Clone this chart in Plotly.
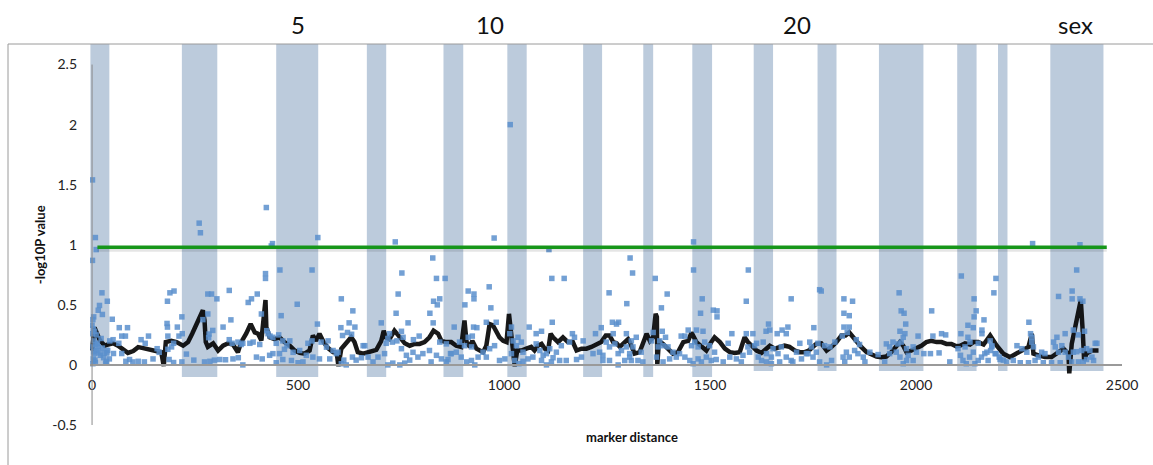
import plotly.graph_objects as go

# Chromosome blocks shaded in the background (marker distance units)
band_start = [-4, 218, 447, 667, 853, 1008, 1192, 1338, 1457, 1606, 1761, 1910, 2100, 2199, 2326]
band_end = [42, 304, 549, 714, 901, 1055, 1238, 1362, 1505, 1653, 1807, 2018, 2147, 2222, 2455]
band_floor = [0.0, -0.1, -0.1, -0.1, -0.1, -0.1, -0.1, -0.1, -0.1, -0.05, -0.05, -0.05, -0.05, -0.05, -0.05]
band_top = 2.671

# Chromosome labels above the plot
chrom_labels = ["5", "10", "20", "sex"]
chrom_label_pos = [500, 966, 1711, 2388]

# Significance threshold
threshold = 0.98
threshold_from, threshold_to = 13, 2463

# Single-marker -log10 P values (marker distance, -log10P)
markers = [
    (1, 1.54), (8, 1.06), (10, 0.96), (1, 0.87), (260, 1.18), (263, 1.10), (423, 1.31), (435, 0.99),
    (421, 0.76), (421, 0.72), (333, 0.62), (199, 0.615), (189, 0.60), (24, 0.60), (37, 0.53), (18, 0.495),
    (15, 0.455), (25, 0.42), (4, 0.40), (2, 0.377), (49, 0.38), (183, 0.53), (281, 0.59), (290, 0.59),
    (303, 0.55), (218, 0.40), (182, 0.345), (183, 0.315), (207, 0.315), (66, 0.31), (86, 0.31), (72, 0.24),
    (81, 0.24), (119, 0.21), (137, 0.24), (129, 0.18), (281, 0.424), (269, 0.377), (293, 0.287), (284, 0.257),
    (283, 0.227), (318, 0.315), (337, 0.375), (333, 0.21), (340, 0.18), (379, 0.52), (387, 0.55), (401, 0.59),
    (411, 0.424), (424, 0.285), (432, 0.24), (366, 0.18), (383, 0.18), (219, 0.26), (211, 0.24), (184, 0.24),
    (198, 0.18), (51, 0.21), (43, 0.20), (65, 0.18), (52, 0.095), (72, 0.095), (36, 0.10), (33, 0.015),
    (91, 0.045), (82, 0.03), (99, 0.025), (112, 0.03), (127, 0.025), (148, 0.05), (158, 0.135), (163, 0.105),
    (187, 0.045), (198, 0.02), (218, 0.025), (229, 0.09), (247, 0.04), (273, 0.025), (286, 0.03), (297, 0.04),
    (310, 0.045), (324, 0.043), (342, 0.05), (355, 0.06), (366, 0.0), (399, 0.065), (413, 0.05), (431, 0.08),
    (2, 0.15), (5, 0.094), (7, 0.04), (1, 0.26), (5, 0.2), (12, 0.12), (20, 0.08), (28, 0.06), (35, 0.03),
    (3, 0.05), (8, 0.02), (15, 0.15), (22, 0.22), (30, 0.1), (38, 0.12), (42, 0.05), (354, 0.19), (362, 0.17),
    (391, 0.19), (407, 0.17), (184, 0.13), (193, 0.15), (0, 0.33), (3, 0.3), (6, 0.28), (10, 0.25), (13, 0.18),
    (17, 0.1), (25, 0.14), (4, 0.11), (9, 0.17), (2, 0.01),
    (438, 1.01), (548, 1.06), (736, 1.024), (456, 0.79), (534, 0.79), (827, 0.89), (752, 0.765), (836, 0.72),
    (857, 0.72), (743, 0.59), (498, 0.505), (605, 0.55), (829, 0.53), (838, 0.50), (844, 0.55), (459, 0.41),
    (633, 0.45), (738, 0.43), (820, 0.43), (702, 0.35), (767, 0.35), (828, 0.35), (547, 0.34), (624, 0.35),
    (604, 0.31), (638, 0.315), (620, 0.27), (630, 0.255), (608, 0.245), (751, 0.28), (780, 0.21), (794, 0.24),
    (427, 0.26), (439, 0.23), (453, 0.25), (463, 0.20), (447, 0.18), (473, 0.16), (480, 0.20), (439, 0.094),
    (455, 0.094), (467, 0.13), (488, 0.105), (504, 0.12), (524, 0.18), (534, 0.20), (556, 0.19), (573, 0.20),
    (552, 0.05), (536, 0.065), (520, 0.08), (447, 0.018), (463, 0.045), (484, 0.037), (500, 0.018), (512, 0.025),
    (569, 0.148), (585, 0.12), (597, 0.106), (577, 0.05), (593, 0.094), (605, 0.01), (617, 0.0), (611, 0.04),
    (632, 0.065), (641, 0.04), (654, 0.06), (658, 0.16), (662, 0.16), (670, 0.065), (682, 0.025), (694, 0.065),
    (710, 0.094), (714, 0.18), (718, 0.22), (722, 0.26), (729, 0.19), (740, 0.20), (751, 0.135), (755, 0.23),
    (718, 0.0), (730, 0.015), (747, 0.0), (759, 0.015), (771, 0.04), (763, 0.08), (779, 0.105), (791, 0.065),
    (803, 0.094), (819, 0.12), (823, 0.025), (836, 0.08), (848, 0.05), (860, 0.025), (872, 0.094), (844, 0.19),
    (860, 0.175),
    (976, 1.056), (1109, 0.96), (1116, 0.72), (1146, 0.72), (1306, 0.89), (964, 0.65), (913, 0.615), (927, 0.59),
    (927, 0.55), (905, 0.50), (968, 0.475), (1255, 0.60), (1298, 0.51), (879, 0.315), (926, 0.315), (934, 0.31),
    (957, 0.355), (981, 0.355), (1117, 0.355), (1061, 0.315), (1236, 0.31), (1263, 0.355), (1273, 0.34),
    (1278, 0.355), (1222, 0.26), (1166, 0.26), (1078, 0.26), (1091, 0.28), (1265, 0.26), (1297, 0.26),
    (864, 0.045), (870, 0.094), (892, 0.19), (904, 0.16), (913, 0.23), (923, 0.24), (921, 0.15), (884, 0.106),
    (896, 0.065), (909, 0.025), (921, 0.037), (929, 0.0), (937, 0.065), (949, 0.106), (957, 0.065), (965, 0.135),
    (977, 0.16), (989, 0.037), (1002, 0.05), (1018, 0.315), (1014, 0.26), (1022, 0.20), (1030, 0.16),
    (1034, 0.23), (1042, 0.19), (1046, 0.106), (1018, 0.094), (1026, 0.037), (1036, 0.01), (1046, 0.03),
    (1058, 0.05), (1070, 0.065), (1078, 0.175), (1087, 0.12), (1095, 0.08), (1103, 0.094), (1111, 0.135),
    (1119, 0.06), (1127, 0.106), (1139, 0.16), (1091, 0.037), (1103, 0.0), (1115, 0.025), (1135, 0.037),
    (1151, 0.037), (1176, 0.045), (1188, 0.065), (1159, 0.19), (1171, 0.23), (1192, 0.20), (1216, 0.094),
    (1232, 0.106), (1240, 0.037), (1248, 0.19), (1256, 0.15), (1269, 0.175), (1277, 0.094), (1285, 0.12),
    (1297, 0.15), (1305, 0.094), (1309, 0.037), (1256, 0.037), (1277, 0.0), (1293, 0.037), (1240, 0.08),
    (1015, 2.0),
    (1460, 1.024), (1312, 0.765), (1367, 0.72), (1460, 0.79), (1593, 0.79), (1396, 0.59), (1481, 0.55),
    (1588, 0.53), (1697, 0.55), (1382, 0.475), (1477, 0.43), (1508, 0.456), (1517, 0.45), (1517, 0.40),
    (1642, 0.34), (1689, 0.315), (1675, 0.29), (1553, 0.26), (1636, 0.28), (1645, 0.29), (1663, 0.26),
    (1685, 0.26), (1384, 0.28), (1447, 0.29), (1467, 0.29), (1483, 0.28), (1430, 0.24), (1439, 0.24),
    (1392, 0.23), (1604, 0.26), (1588, 0.26), (1544, 0.18), (1613, 0.18), (1629, 0.19), (1718, 0.18),
    (1742, 0.19), (1309, 0.20), (1321, 0.23), (1313, 0.15), (1333, 0.106), (1305, 0.065), (1325, 0.037),
    (1337, 0.025), (1378, 0.20), (1386, 0.16), (1398, 0.15), (1410, 0.106), (1418, 0.065), (1402, 0.05),
    (1386, 0.025), (1426, 0.094), (1439, 0.065), (1451, 0.037), (1459, 0.01), (1471, 0.05), (1479, 0.025),
    (1491, 0.065), (1503, 0.037), (1455, 0.16), (1463, 0.19), (1471, 0.15), (1487, 0.19), (1499, 0.16),
    (1511, 0.106), (1515, 0.045), (1532, 0.025), (1548, 0.065), (1564, 0.05), (1576, 0.025), (1580, 0.08),
    (1592, 0.15), (1596, 0.106), (1608, 0.16), (1617, 0.065), (1625, 0.037), (1637, 0.094), (1649, 0.065),
    (1653, 0.135), (1665, 0.094), (1673, 0.15), (1685, 0.065), (1697, 0.037), (1710, 0.106), (1722, 0.05),
    (1734, 0.094), (1746, 0.15), (1637, 0.025), (1649, 0.01), (1669, 0.025), (1701, 0.025), (1358, 0.2),
    (1362, 0.27), (1374, 0.15), (1370, 0.065),
    (1766, 0.626), (1770, 0.615), (2110, 0.74), (1959, 0.60), (1825, 0.55), (1846, 0.53), (2141, 0.55),
    (1825, 0.43), (1838, 0.41), (1964, 0.45), (1971, 0.43), (2038, 0.45), (2146, 0.45), (2141, 0.40),
    (2165, 0.375), (1975, 0.34), (2126, 0.33), (2139, 0.31), (2160, 0.29), (1752, 0.31), (1825, 0.315),
    (1838, 0.315), (1833, 0.27), (1961, 0.28), (1973, 0.26), (2005, 0.24), (2041, 0.24), (2062, 0.26),
    (2072, 0.25), (2109, 0.26), (2126, 0.23), (2160, 0.26), (1821, 0.24), (1855, 0.21), (1863, 0.17),
    (1762, 0.18), (1778, 0.16), (1791, 0.15), (1803, 0.19), (1738, 0.094), (1750, 0.065), (1766, 0.025),
    (1783, 0.0), (1795, 0.037), (1758, 0.106), (1823, 0.065), (1831, 0.106), (1838, 0.065), (1827, 0.025),
    (1851, 0.12), (1859, 0.094), (1872, 0.065), (1876, 0.025), (1888, 0.106), (1908, 0.086), (1924, 0.025),
    (1936, 0.094), (1952, 0.106), (1961, 0.065), (1969, 0.01), (1977, 0.037), (1981, 0.08), (1993, 0.037),
    (2001, 0.106), (1956, 0.175), (1964, 0.19), (1969, 0.23), (1977, 0.135), (1993, 0.15), (2019, 0.094),
    (2035, 0.094), (2056, 0.10), (2082, 0.025), (2102, 0.135), (2108, 0.08), (2114, 0.037), (2122, 0.01),
    (2130, 0.065), (2139, 0.106), (2143, 0.01), (2151, 0.037), (2159, 0.065), (2167, 0.094), (2175, 0.037),
    (2181, 0.12), (1928, 0.175), (1936, 0.15), (1944, 0.19),
    (2283, 1.01), (2398, 1.00), (2390, 0.79), (2194, 0.72), (2189, 0.60), (2346, 0.57), (2379, 0.615),
    (2379, 0.55), (2398, 0.55), (2405, 0.53), (2274, 0.355), (2278, 0.26), (2281, 0.23), (2342, 0.23),
    (2362, 0.26), (2382, 0.29), (2394, 0.25), (2409, 0.28), (2435, 0.18), (2439, 0.18), (2119, 0.15),
    (2131, 0.19), (2151, 0.18), (2172, 0.106), (2184, 0.15), (2192, 0.094), (2245, 0.16), (2257, 0.135),
    (2269, 0.106), (2281, 0.19), (2285, 0.15), (2297, 0.065), (2305, 0.106), (2313, 0.094), (2204, 0.045),
    (2220, 0.025), (2236, 0.037), (2253, 0.018), (2273, 0.018), (2289, 0.037), (2309, 0.018), (2329, 0.018),
    (2350, 0.018), (2334, 0.19), (2338, 0.15), (2346, 0.106), (2354, 0.16), (2362, 0.106), (2370, 0.065),
    (2382, 0.106), (2390, 0.11), (2402, 0.12), (2414, 0.135), (2422, 0.12), (2427, 0.065), (2431, 0.037),
    (2378, 0.025), (2394, 0.025), (2406, 0.025), (2414, 0.045), (2180, 0.2), (2184, 0.16), (2194, 0.094),
    (2202, 0.065), (2212, 0.04),
]

# Sliding-window average of -log10P along the genome
window_pos = [
    0, 6, 19, 31, 39, 51, 63, 75, 87, 100, 112, 124, 140, 156, 168, 174, 179, 192, 205, 221, 233, 243, 253,
    261, 269, 273, 276, 281, 294, 306, 318, 330, 342, 354, 362, 374, 385, 395, 403, 411, 421, 423, 431,
    443, 455, 467, 480, 492, 504, 516, 528, 536, 544, 552, 562, 573, 585, 594, 598, 605, 617, 629, 637, 645,
    658, 674, 690, 702, 708, 713, 722, 734, 747, 759, 771, 783, 795, 807, 819, 829, 840, 848, 860, 872,
    884, 896, 904, 909, 917, 923, 933, 941, 949, 957, 965, 973, 981, 989, 998, 1006, 1012, 1016, 1022, 1026,
    1032, 1042, 1054, 1066, 1074, 1082, 1091, 1099, 1107, 1113, 1119, 1131, 1143, 1155, 1167, 1176, 1188,
    1200, 1212, 1224, 1236, 1247, 1256, 1265, 1273, 1281, 1293,
    1301, 1305, 1317, 1329, 1339, 1346, 1354, 1362, 1368, 1371, 1372, 1376, 1386, 1398, 1410, 1422, 1435,
    1447, 1455, 1467, 1479, 1491, 1503, 1511, 1524, 1536, 1548, 1560, 1572, 1584, 1592, 1600, 1613, 1625,
    1637, 1645, 1657, 1669, 1681, 1693, 1706, 1718, 1730, 1740,
    1758, 1770, 1783, 1795, 1807, 1819, 1829, 1838, 1847, 1857, 1867, 1880, 1892, 1904, 1916, 1928, 1940,
    1952, 1961, 1969, 1977, 1989, 2001, 2013, 2025, 2037, 2050, 2062, 2074, 2086, 2098,
    2107, 2119, 2131, 2139, 2151, 2164, 2180, 2196, 2212, 2228, 2245, 2261, 2273, 2281, 2285, 2297, 2313,
    2329, 2346, 2358, 2370, 2372, 2378, 2386, 2394, 2400, 2405, 2408, 2414, 2427, 2443,
]
window_logp = [
    0.12, 0.31, 0.204, 0.16, 0.17, 0.18, 0.16, 0.13, 0.10, 0.115, 0.148, 0.14, 0.13, 0.12, 0.106, -0.01, 0.19,
    0.20, 0.19, 0.16, 0.19, 0.26, 0.34, 0.40, 0.455, 0.37, 0.19, 0.15, 0.18, 0.12, 0.16, 0.18, 0.17, 0.106,
    0.19, 0.26, 0.34, 0.27, 0.26, 0.204, 0.54, 0.315, 0.23,
    0.215, 0.23, 0.19, 0.16, 0.12, 0.10, 0.094, 0.12, 0.245, 0.20, 0.26, 0.19, 0.14, 0.106, 0.10, -0.01,
    0.135, 0.18, 0.23, 0.19, 0.106, 0.094, 0.106, 0.126, 0.20, 0.285, 0.23, 0.215, 0.285, 0.23, 0.18, 0.16,
    0.175, 0.175, 0.19, 0.23, 0.285, 0.26, 0.20, 0.19, 0.19,
    0.16, 0.15, 0.37, 0.19, 0.15, 0.20, 0.135, 0.12, 0.106, 0.16, 0.34, 0.33, 0.27, 0.23, 0.20, 0.19, 0.425,
    0.285, 0.094, -0.01, 0.12, 0.12, 0.135, 0.15, 0.12, 0.16, 0.175, 0.135, 0.12, 0.26, 0.23, 0.19, 0.23,
    0.19, 0.19, 0.12, 0.135, 0.135, 0.15, 0.175, 0.19, 0.245, 0.245, 0.19, 0.18, 0.15, 0.19,
    0.215, 0.19, 0.094, 0.106, 0.20, 0.26, 0.20, 0.23, 0.425, 0.40, 0.0, 0.20, 0.175, 0.135, 0.094, 0.106,
    0.19, 0.20, 0.27, 0.19, 0.16, 0.12, 0.19, 0.23, 0.19, 0.135, 0.106, 0.10, 0.106, 0.23, 0.19, 0.16, 0.12,
    0.10, 0.135, 0.16, 0.135, 0.15, 0.16, 0.15, 0.12, 0.106, 0.106, 0.12,
    0.175, 0.18, 0.12, 0.15, 0.19, 0.245, 0.245, 0.27, 0.23, 0.19, 0.15, 0.106, 0.088, 0.07, 0.065, 0.07,
    0.106, 0.15, 0.19, 0.16, 0.106, 0.12, 0.135, 0.16, 0.19, 0.20, 0.19, 0.19, 0.175, 0.175, 0.155,
    0.16, 0.18, 0.17, 0.19, 0.19, 0.17, 0.245, 0.16, 0.094, 0.065, 0.094, 0.12, 0.15, 0.26, 0.094, 0.08, 0.065,
    0.065, 0.106, 0.135, 0.094, -0.07, 0.175, 0.315, 0.425, 0.54, 0.26, 0.04, 0.094, 0.12, 0.12,
]

FONT = "Lato, 'Open Sans', sans-serif"
AXIS_GREY = "#9a9a9a"
BAND_COLOR = "#bccbdc"
POINT_COLOR = "#5b8fcc"

marker_pos = [p for p, _ in markers]
marker_logp = [v for _, v in markers]

fig = go.Figure()

fig.add_trace(go.Scatter(
    x=window_pos, y=window_logp, mode="lines",
    line=dict(color="rgba(0,0,0,0.9)", width=4.5),
    hoverinfo="skip", showlegend=False,
))

fig.add_trace(go.Scatter(
    x=marker_pos, y=marker_logp, mode="markers",
    marker=dict(symbol="square", size=5.5, color=POINT_COLOR, opacity=0.85, line=dict(width=0)),
    showlegend=False,
))

# soft drop shadow under the threshold line
fig.add_trace(go.Scatter(
    x=[threshold_from, threshold_to], y=[threshold - 0.022, threshold - 0.022], mode="lines",
    line=dict(color="rgba(0,0,0,0.10)", width=4),
    hoverinfo="skip", showlegend=False,
))
fig.add_trace(go.Scatter(
    x=[threshold_from, threshold_to], y=[threshold, threshold], mode="lines",
    line=dict(color="#16961a", width=3.5),
    hoverinfo="skip", showlegend=False,
))

shapes = []
for x0, x1, y0 in zip(band_start, band_end, band_floor):
    shapes.append(dict(
        type="rect", xref="x", yref="y", x0=x0, x1=x1, y0=y0, y1=band_top,
        fillcolor=BAND_COLOR, line=dict(width=0), layer="below",
    ))

# vertical value axis through x = 0
shapes.append(dict(type="line", xref="x", yref="y", x0=0, x1=0, y0=-0.5, y1=2.5,
                   line=dict(color="#8a8a8a", width=1)))

# chart frame (top and left edges)
W, H = 1153, 465
ML, MR, MT, MB = 90, 31, 44, 40
pw, ph = W - ML - MR, H - MT - MB
frame_x = (8 - ML) / pw
shapes.append(dict(type="line", xref="paper", yref="paper", x0=frame_x, x1=(W - ML) / pw,
                   y0=1, y1=1, line=dict(color=AXIS_GREY, width=1)))
shapes.append(dict(type="line", xref="paper", yref="paper", x0=frame_x, x1=frame_x,
                   y0=1, y1=-MB / ph, line=dict(color=AXIS_GREY, width=1)))

annotations = []
for lab, pos in zip(chrom_labels, chrom_label_pos):
    annotations.append(dict(
        text=lab, x=pos, xref="x", y=1, yref="paper", yshift=20, yanchor="middle",
        showarrow=False, font=dict(family=FONT, size=24, color="#111111"),
    ))

annotations.append(dict(
    text="<b>marker distance</b>", x=(632 - ML) / pw, xref="paper", y=0, yref="paper",
    yshift=-12, yanchor="middle", xanchor="center", showarrow=False,
    font=dict(family=FONT, size=13, color="#111111"),
))
annotations.append(dict(
    text="<b>-log10P value</b>", x=(40 - ML) / pw, xref="paper", y=0.472, yref="paper",
    textangle=-90, xanchor="center", yanchor="middle", showarrow=False,
    font=dict(family=FONT, size=13, color="#111111"),
))

y_lo, y_hi = -0.5, band_top
fig.update_layout(
    width=W, height=H,
    margin=dict(l=ML, r=MR, t=MT, b=MB, pad=0),
    paper_bgcolor="white", plot_bgcolor="white",
    shapes=shapes, annotations=annotations,
    font=dict(family=FONT, size=13, color="#222222"),
    xaxis=dict(
        range=[-5, 2500], anchor="free", position=(0 - y_lo) / (y_hi - y_lo),
        showline=True, linecolor=AXIS_GREY, linewidth=1.5,
        tickvals=[0, 500, 1000, 1500, 2000, 2500], ticks="", ticklabelstandoff=8,
        showgrid=False, zeroline=False, tickfont=dict(size=14, color="#222222"),
    ),
    yaxis=dict(
        range=[y_lo, y_hi], showline=False, showgrid=False, zeroline=False,
        tickvals=[-0.5, 0, 0.5, 1, 1.5, 2, 2.5],
        ticktext=["-0.5", "0", "0.5", "1", "1.5", "2", "2.5"],
        ticks="", ticklabelstandoff=12, tickfont=dict(size=14, color="#222222"),
    ),
)

fig.write_html("out.html")
